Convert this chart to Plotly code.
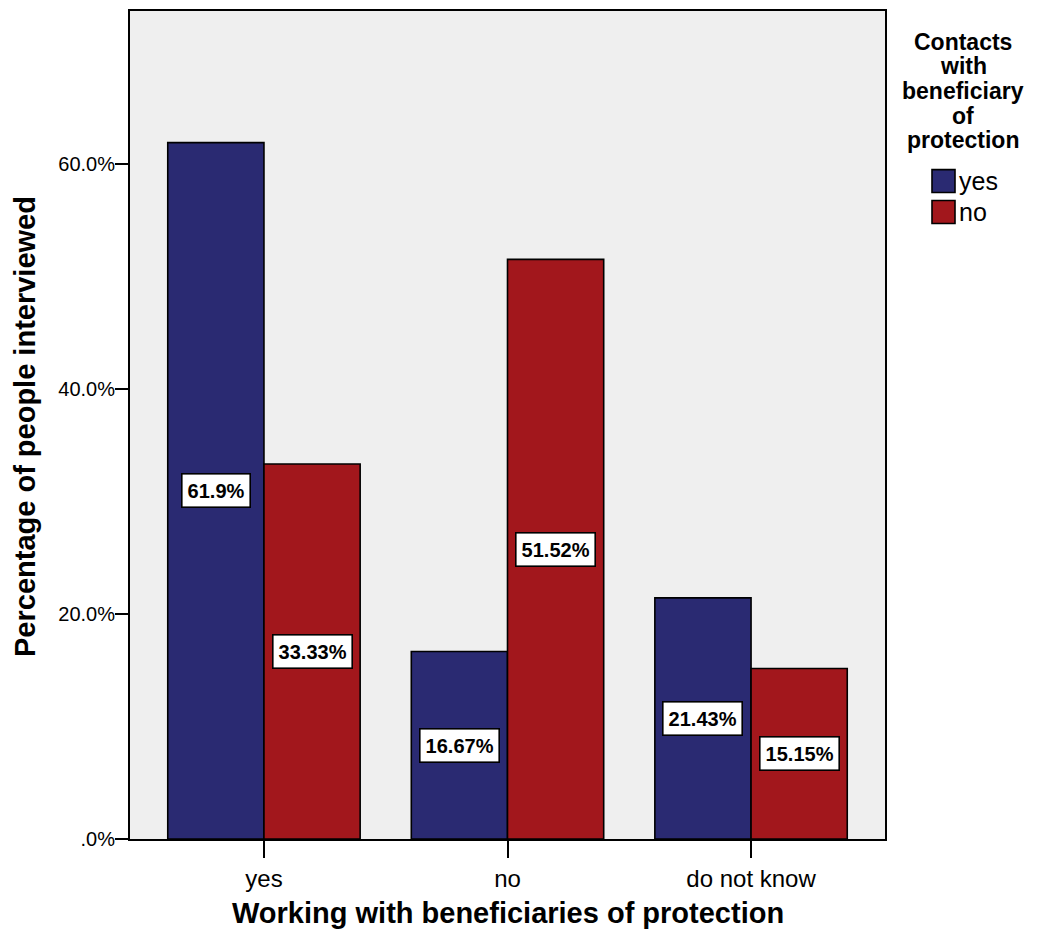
import plotly.graph_objects as go

categories = ["yes", "no", "do not know"]
series_names = ["yes", "no"]
values_yes = [61.9, 16.67, 21.43]
values_no = [33.33, 51.52, 15.15]
label_yes = ["61.9%", "16.67%", "21.43%"]
label_no = ["33.33%", "51.52%", "15.15%"]
tick_vals = [0, 20, 40, 60]
tick_text = [".0%", "20.0%", "40.0%", "60.0%"]
legend_title_lines = ["Contacts", "with", "beneficiary", "of", "protection"]

BLUE = "#2A2A72"
RED = "#A2171C"
colors = [BLUE, RED]
FONT = "Liberation Sans, Arial, sans-serif"

W, H = 1022, 921
L, R, T, B = 122, 145, 1, 90
PW, PH = W - L - R, H - T - B


def px(xp):
    return (xp - L) / PW


def py(yp):
    return (H - B - yp) / PH


fig = go.Figure()
for name, vals, col in zip(series_names, [values_yes, values_no], colors):
    fig.add_trace(go.Bar(x=categories, y=vals, name=name, showlegend=False,
                         marker=dict(color=col, line=dict(color="black", width=1.6))))

half = 0.79 / 4
annotations = []
for offs, vals, labs in [(-half, values_yes, label_yes), (half, values_no, label_no)]:
    for i, (v, t) in enumerate(zip(vals, labs)):
        annotations.append(dict(x=i + offs, y=v / 2, xref="x", yref="y", text="<b>" + t + "</b>",
                                showarrow=False, bgcolor="white", bordercolor="black",
                                borderwidth=1.6, borderpad=5,
                                font=dict(size=20, color="black", family=FONT)))

# legend title
for k, line in enumerate(legend_title_lines):
    annotations.append(dict(xref="paper", yref="paper", x=px(955), y=py(32 + 24.6 * k),
                            xanchor="center", yanchor="middle", text="<b>" + line + "</b>",
                            showarrow=False, font=dict(size=23, color="black", family=FONT)))

shapes = []
for k, (name, col) in enumerate(zip(series_names, colors)):
    top = 160 + 31 * k
    shapes.append(dict(type="rect", xref="paper", yref="paper", x0=px(924), x1=px(947),
                       y0=py(top + 23), y1=py(top), fillcolor=col,
                       line=dict(color="black", width=1.6)))
    annotations.append(dict(xref="paper", yref="paper", x=px(949), y=py(top + 11.5),
                            xanchor="left", yanchor="middle", text=name, showarrow=False,
                            font=dict(size=25, color="black", family=FONT)))

# axis titles
annotations.append(dict(xref="paper", yref="paper", x=px(500), y=py(905), xanchor="center",
                        yanchor="middle", text="<b>Working with beneficiaries of protection</b>",
                        showarrow=False, font=dict(size=29, color="black", family=FONT)))
annotations.append(dict(xref="paper", yref="paper", x=px(17), y=py(418), xanchor="center",
                        yanchor="middle", textangle=-90,
                        text="<b>Percentage of people interviewed</b>",
                        showarrow=False, font=dict(size=29, color="black", family=FONT)))

fig.update_layout(
    width=W, height=H,
    margin=dict(l=L, r=R, t=T, b=B),
    paper_bgcolor="white", plot_bgcolor="#EFEFEF",
    barmode="group", bargap=0.21, bargroupgap=0,
    font=dict(family=FONT, color="black"),
    showlegend=False,
    annotations=annotations,
    shapes=shapes,
    xaxis=dict(range=[-0.55, 2.55], showline=True, linecolor="black", linewidth=2, mirror=True,
               ticks="outside", ticklen=17, tickwidth=2, tickcolor="black",
               tickfont=dict(size=24, family=FONT, color="black"), showgrid=False),
    yaxis=dict(range=[0, 73.6], showline=True, linecolor="black", linewidth=2, mirror=True,
               tickvals=tick_vals, ticktext=tick_text, ticks="outside", ticklen=13, tickwidth=2,
               tickcolor="black", tickfont=dict(size=20, family=FONT, color="black"),
               ticklabelstandoff=-4,
               showgrid=False, zeroline=False),
)

fig.write_html("out.html")
